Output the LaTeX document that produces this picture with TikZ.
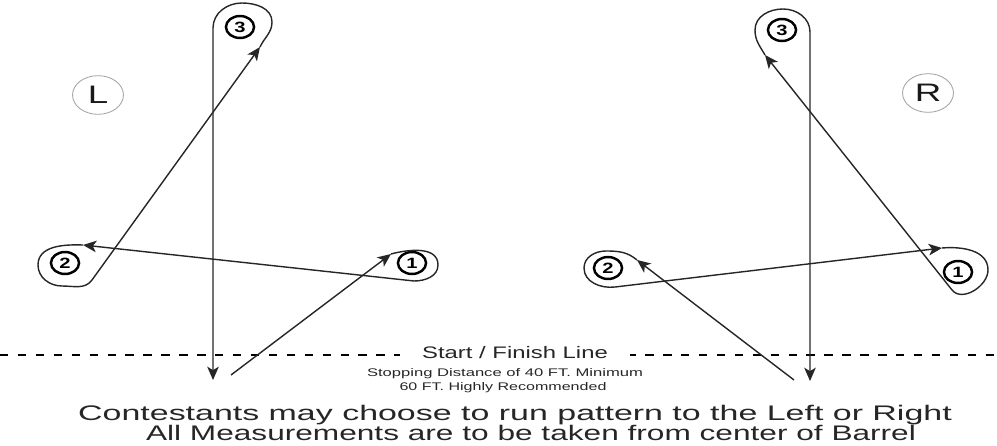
\documentclass[tikz,border=0pt]{standalone}
\usepackage{fontspec}
\setmainfont{Liberation Sans}
\usepackage{graphicx}
\usetikzlibrary{arrows.meta, shapes.geometric}

\begin{document}
\begin{tikzpicture}[x=0.02cm, y=0.02cm,
    >={Stealth[length=7.6pt, width=6.6pt, inset=2pt]},
    barrel/.style={ellipse, draw, line width=1.4pt, minimum width=16pt, minimum height=12.5pt,
      inner sep=0pt, font=\fontsize{8.5}{8.5}\bfseries\selectfont},
    run/.style={line width=0.8pt, black!85},
    side/.style={ellipse, draw=black!35, line width=0.5pt, minimum width=29pt, minimum height=22pt,
      inner sep=0pt, text=black!90, font=\fontsize{14.4}{14.4}\selectfont},
    caption/.style={text=black!85, inner sep=0pt, anchor=base}]
  \useasboundingbox (0,0) rectangle (997,-446);

% start / finish line
  \coordinate (sfW) at (0,-355);
  \coordinate (sfE) at (997,-355);
  \draw[line width=1.4pt, dash pattern=on 4.8pt off 5.4pt] (sfW) -- (sfE);
  \node[caption, fill=white, inner xsep=9pt, inner ysep=2pt, xscale=1.43,
    font=\fontsize{9.5}{9.5}\selectfont] (sf) at (515,-358) {Start / Finish Line};

% define the barrels
  \node[barrel] (b3L) at (240,-27)  {\scalebox{1.35}[1]{3}};
  \node[barrel] (b2L) at (65,-263)  {\scalebox{1.35}[1]{2}};
  \node[barrel] (b1L) at (412,-263) {\scalebox{1.35}[1]{1}};
  \node[barrel] (b3R) at (782,-30)  {\scalebox{1.35}[1]{3}};
  \node[barrel] (b2R) at (608,-268) {\scalebox{1.35}[1]{2}};
  \node[barrel] (b1R) at (958,-272) {\scalebox{1.35}[1]{1}};

  \node[side] (left)  at (98,-95)  {\scalebox{1.45}[1]{L}};
  \node[side] (right) at (928,-93) {\scalebox{1.45}[1]{R}};

% ends of the runs
  \coordinate (sL) at (231,-375);
  \coordinate (a1L) at (391,-254);
  \coordinate (a2L) at (83,-245);
  \coordinate (a3L) at (260,-47);
  \coordinate (eL) at (213,-380);
  \coordinate (sR) at (794,-380);
  \coordinate (a2R) at (637,-260);
  \coordinate (a1R) at (942,-248);
  \coordinate (a3R) at (765,-55);
  \coordinate (eR) at (810,-381);

% left pattern
  \draw[run,->] (sL) -- (a1L);
  \draw[run,->] (a1L) to[out=15,in=90] (438,-265) to[out=-90,in=0] (414,-281) -- (a2L);
  \draw[run,->] (a2L) to[out=178,in=90] (38,-265) to[out=-90,in=180] (62,-286)
    to[out=0,in=234] (92,-280) -- (a3L);
  \draw[run,->] (a3L) to[out=65,in=-90] (272,-22) to[out=90,in=0] (242,-3)
    to[out=180,in=90] (213,-28) -- (eL);

% right pattern
  \draw[run,->] (sR) -- (a2R);
  \draw[run,->] (a2R) to[out=140,in=0] (606,-251) to[out=180,in=90] (584,-268)
    to[out=-90,in=187] (615,-287) -- (a1R);
  \draw[run,->] (a1R) to[out=5,in=90] (988,-270) to[out=-90,in=-51] (952,-290) -- (a3R);
  \draw[run,->] (a3R) to[out=120,in=-90] (755,-30) to[out=90,in=180] (783,-9)
    to[out=0,in=90] (810,-32) -- (eR);

% notes
  \node[caption, xscale=1.5, font=\fontsize{6.3}{6.3}\selectfont] (stop) at (505,-376)
    {Stopping Distance of 40 FT. Minimum};
  \node[caption, xscale=1.45, font=\fontsize{6.3}{6.3}\selectfont] (rec) at (503,-390)
    {60 FT. Highly Recommended};
  \node[caption, xscale=1.61, font=\fontsize{12}{12}\selectfont] (choose) at (515,-420)
    {Contestants may choose to run pattern to the Left or Right};
  \node[caption, xscale=1.5, font=\fontsize{12}{12}\selectfont] (measure) at (531,-440)
    {All Measurements are to be taken from center of Barrel};
\end{tikzpicture}
\end{document}
